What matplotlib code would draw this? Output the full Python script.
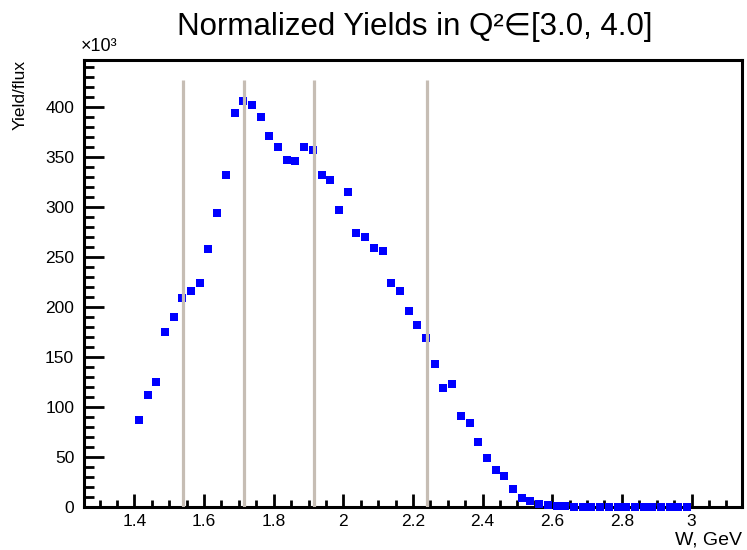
import numpy as np
import matplotlib
matplotlib.use("Agg")
import matplotlib.pyplot as plt
from matplotlib.ticker import MultipleLocator

plt.rcParams['font.family'] = ['Liberation Sans', 'DejaVu Sans']

# bin centres (GeV) and normalized yield / flux in units of 10^3
w_gev = [1.4125, 1.4375, 1.4625, 1.4875, 1.5125, 1.5375, 1.5625, 1.5875,
         1.6125, 1.6375, 1.6625, 1.6875, 1.7125, 1.7375, 1.7625, 1.7875,
         1.8125, 1.8375, 1.8625, 1.8875, 1.9125, 1.9375, 1.9625, 1.9875,
         2.0125, 2.0375, 2.0625, 2.0875, 2.1125, 2.1375, 2.1625, 2.1875,
         2.2125, 2.2375, 2.2625, 2.2875, 2.3125, 2.3375, 2.3625, 2.3875,
         2.4125, 2.4375, 2.4625, 2.4875, 2.5125, 2.5375, 2.5625, 2.5875,
         2.6125, 2.6375, 2.6625, 2.6875, 2.7125, 2.7375, 2.7625, 2.7875,
         2.8125, 2.8375, 2.8625, 2.8875, 2.9125, 2.9375, 2.9625, 2.9875]
yield_k = [87, 112, 125, 175, 190, 209, 216, 224,
           258, 294, 332, 394, 406, 402, 390, 371,
           360, 347, 346, 360, 357, 332, 327, 297,
           315, 274, 270, 259, 256, 224, 216, 196,
           182, 169, 143, 119, 123, 91, 84, 65,
           49, 37, 31, 18, 8.5, 5.5, 2.5, 1.5,
           0.7, 0.3, 0.2, 0.1, 0.1, 0.1, 0.1, 0.1,
           0.1, 0.1, 0.1, 0.1, 0.1, 0.1, 0.1, 0.1]
# W boundaries marked on the plot
w_cuts = [1.54, 1.715, 1.915, 2.24]

fig = plt.figure(figsize=(7.47, 5.5), dpi=100)
ax = fig.add_axes([0.1124, 0.0787, 0.8809, 0.8122])

ax.plot(w_gev, yield_k, 's', color='#0000ff', markersize=6.2, markeredgewidth=0,
        clip_on=False, zorder=3)
ymax_data = max(yield_k)
ax.vlines(w_cuts, 0, 1.05 * ymax_data, color='#c6bdb4', linewidth=2.3, zorder=4)

# ROOT-like graph range
dx = max(w_gev) - min(w_gev)
ax.set_xlim(min(w_gev) - 0.1 * dx, max(w_gev) + 0.1 * dx)
ax.set_ylim(0, ymax_data + 0.1 * (ymax_data - 0))

ax.xaxis.set_major_locator(MultipleLocator(0.2))
ax.xaxis.set_minor_locator(MultipleLocator(0.05))
ax.yaxis.set_major_locator(MultipleLocator(50))
ax.yaxis.set_minor_locator(MultipleLocator(10))
ax.xaxis.set_major_formatter(plt.FuncFormatter(lambda v, p: ('%.1f' % v).rstrip('0').rstrip('.')))

for s in ax.spines.values():
    s.set_linewidth(2.2)
ax.tick_params(axis='both', which='both', direction='in', width=2.0,
               top=False, right=False, labelsize=12.5)
ax.tick_params(axis='y', which='major', length=14.5, pad=7)
ax.tick_params(axis='y', which='minor', length=7.2)
ax.tick_params(axis='x', which='major', length=9.4, pad=5)
ax.tick_params(axis='x', which='minor', length=5)

fig.text(0.555, 0.951, 'Normalized Yields in Q\u00b2\u2208[3.0, 4.0]',
         ha='center', va='center', fontsize=22.5)
fig.text(0.108, 0.915, '\u00d710\u00b3', ha='left', va='center', fontsize=13)
fig.text(0.027, 0.8909, 'Yield/flux', rotation=90, ha='center', va='top', fontsize=12.5)
fig.text(0.9933, 0.018, 'W, GeV', ha='right', va='center', fontsize=14)

fig.savefig('out.png', dpi=100)
